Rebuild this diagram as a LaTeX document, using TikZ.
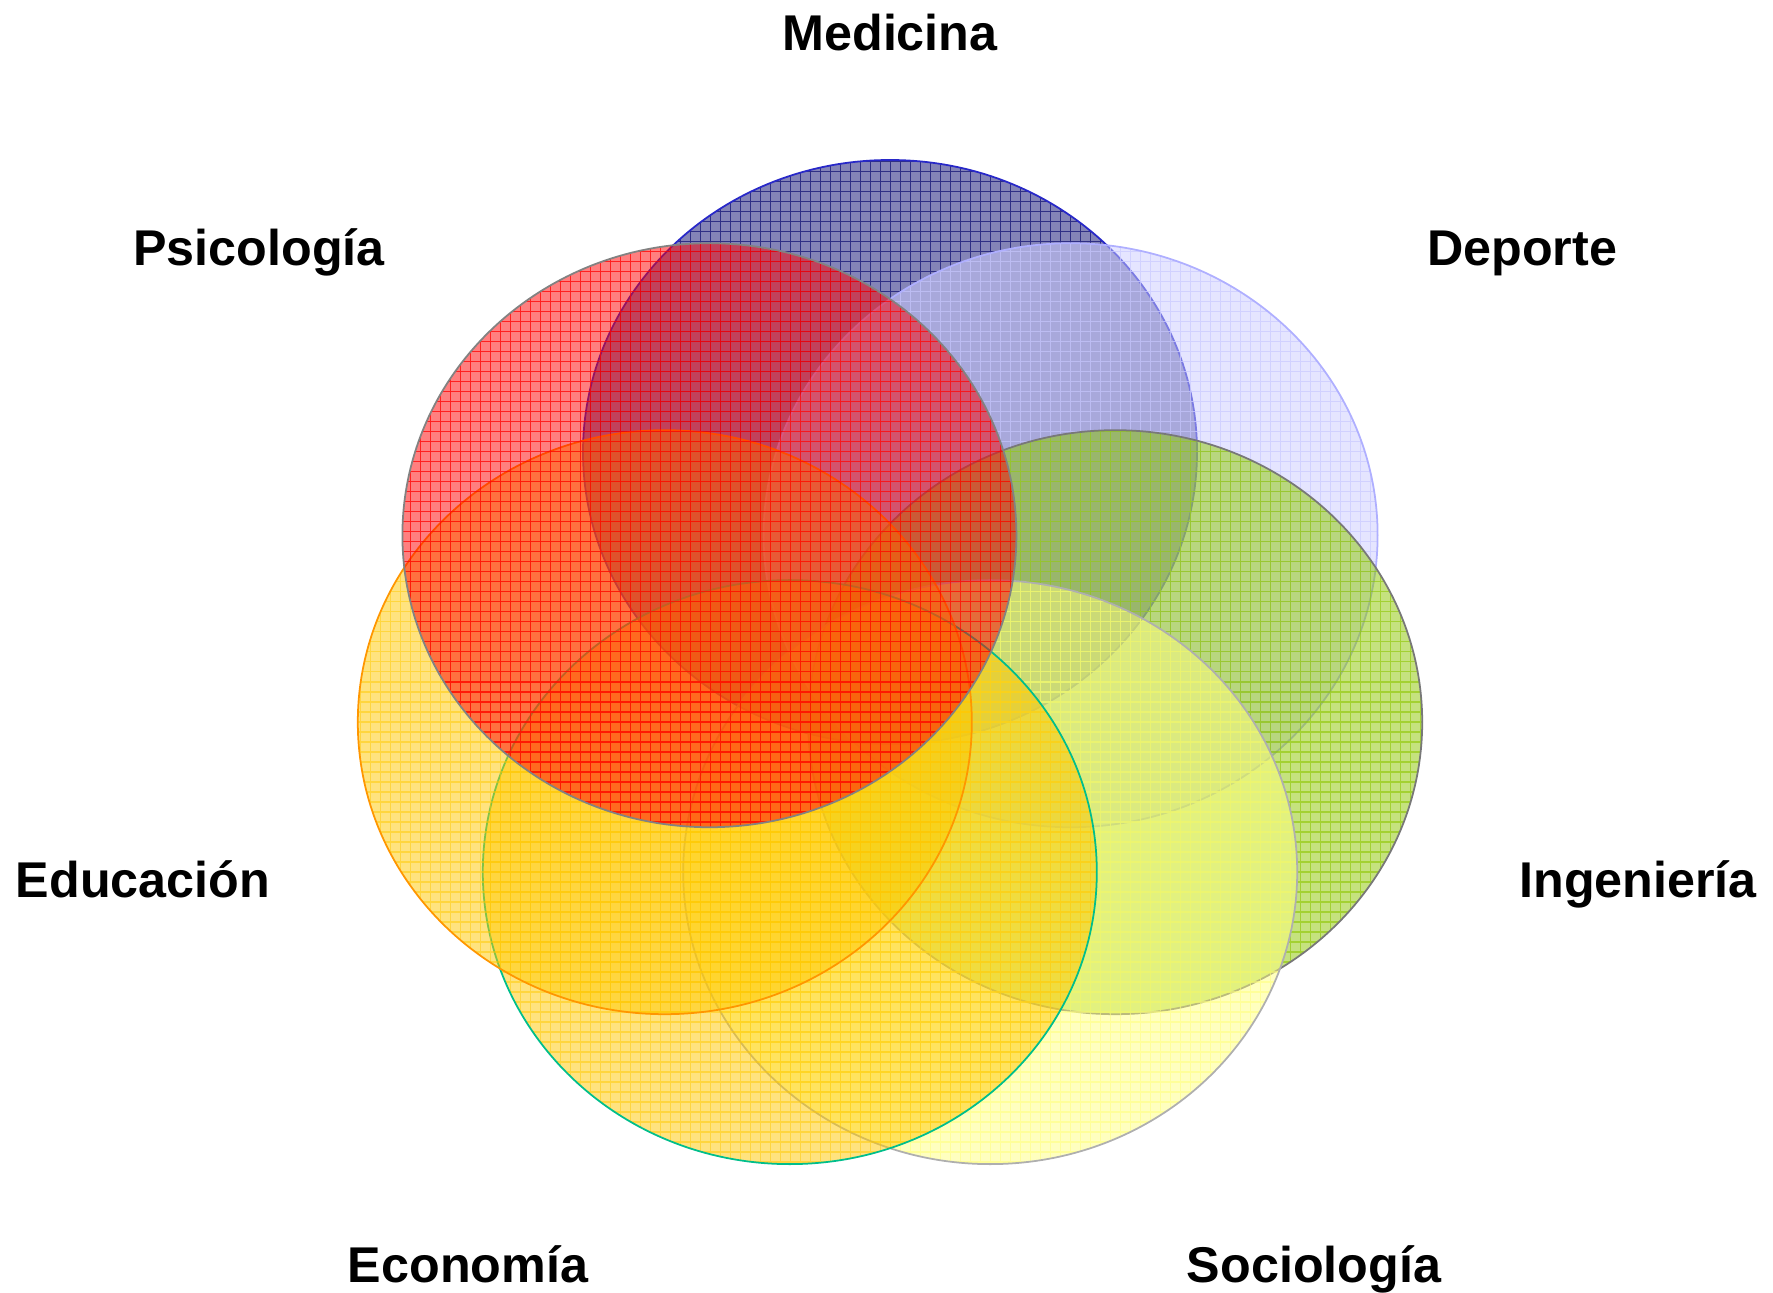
\documentclass[tikz,border=0pt]{standalone}
\usepackage{fontspec}
\setmainfont{Liberation Sans}
\usetikzlibrary{calc}
\definecolor{medicinaC}{RGB}{10,10,112}
\definecolor{medicinaB}{RGB}{40,40,200}
\definecolor{deporteC}{RGB}{204,204,255}
\definecolor{deporteB}{RGB}{175,175,255}
\definecolor{psicoC}{RGB}{255,0,0}
\definecolor{psicoB}{RGB}{130,130,130}
\definecolor{ingeC}{RGB}{140,198,0}
\definecolor{ingeB}{RGB}{120,120,120}
\definecolor{educaC}{RGB}{255,200,0}
\definecolor{educaB}{RGB}{255,150,0}
\definecolor{econoC}{RGB}{255,200,0}
\definecolor{econoB}{RGB}{0,190,140}
\definecolor{socioC}{RGB}{255,255,128}
\definecolor{socioB}{RGB}{175,175,175}
\tikzset{
rejilla/.style={ % grid lines inside each area
line width=0.3pt},
borde/.style={ % outline of each area
line width=0.5pt},
etiqueta/.style={ % area names
font=\bfseries\fontsize{14.3}{17}\selectfont,
anchor=base}}
% #1 name, #2 angle, #3 colour, #4 fill opacity, #5 grid opacity, #6 outline colour
\newcommand{\campo}[6]{%
\coordinate (#1) at ($(centro)+(#2:2.31 and 2.21)$);
\fill[#3, fill opacity=#4] (#1) ellipse [x radius=3.07, y radius=2.92];
\begin{scope}
\clip (#1) ellipse [x radius=3.07, y radius=2.92];
\draw[rejilla, #3, opacity=#5] ($(#1)+(-3.1,-3)$) grid[step=0.1] ($(#1)+(3.1,3)$);
\end{scope}
\draw[borde, #6] (#1) ellipse [x radius=3.07, y radius=2.92];
}

\begin{document}
\begin{tikzpicture}
\useasboundingbox (0,0) rectangle (17.73,12.92);
\coordinate (centro) at (8.90,6.19);
\campo{medicina}{90}{medicinaC}{0.5}{0.7}{medicinaB}
\campo{deporte}{38.57}{deporteC}{0.5}{0.8}{deporteB}
\campo{ingenieria}{-12.86}{ingeC}{0.5}{0.6}{ingeB}
\campo{sociologia}{-64.29}{socioC}{0.5}{0.6}{socioB}
\campo{economia}{-115.71}{econoC}{0.5}{0.5}{econoB}
\campo{educacion}{-167.14}{educaC}{0.5}{0.5}{educaB}
\campo{psicologia}{141.43}{psicoC}{0.5}{0.75}{psicoB}

\node[etiqueta] (lmedicina) at (8.90,12.41) {Medicina};
\node[etiqueta] (ldeporte) at (15.22,10.27) {Deporte};
\node[etiqueta] (lpsicologia) at (2.59,10.27) {Psicología};
\node[etiqueta] (leducacion) at (1.43,3.95) {Educación};
\node[etiqueta] (lingenieria) at (16.38,3.95) {Ingeniería};
\node[etiqueta] (leconomia) at (4.68,0.10) {Economía};
\node[etiqueta] (lsociologia) at (13.14,0.10) {Sociología};
\end{tikzpicture}
\end{document}
